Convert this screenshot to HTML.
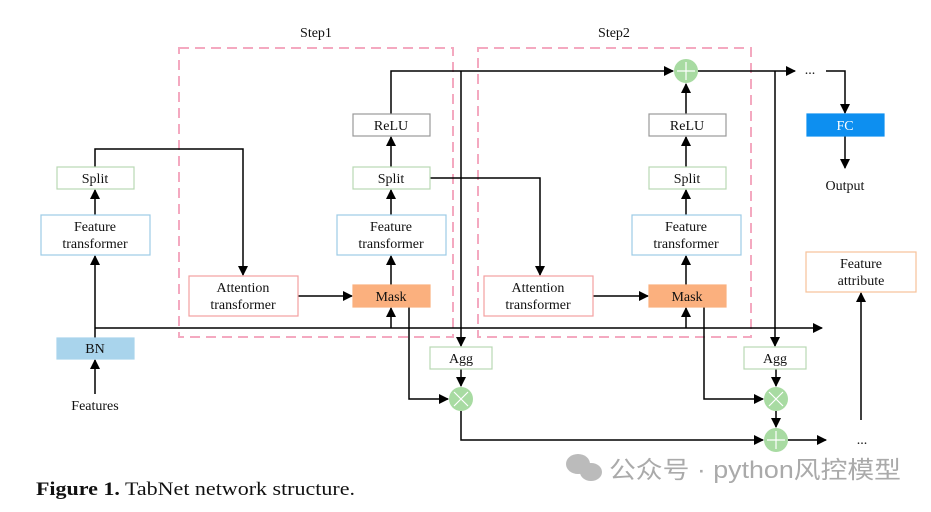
<!DOCTYPE html>
<html><head><meta charset="utf-8"><style>
body{margin:0;background:#fff;width:931px;height:507px;overflow:hidden}
svg text{font-family:"Liberation Serif",serif;font-size:14px;fill:#111}
</style></head><body>
<svg width="931" height="507" viewBox="0 0 931 507" xmlns="http://www.w3.org/2000/svg">
<defs><marker id="a" markerWidth="10" markerHeight="10" refX="9" refY="5" orient="auto" markerUnits="userSpaceOnUse"><path d="M0,0 L10,5 L0,10 z" fill="#000"/></marker></defs>
<g fill="none" stroke="#f4a9c0" stroke-width="2" stroke-dasharray="10,6">
<rect x="179" y="48" width="274" height="289"/>
<rect x="478" y="48" width="273" height="289"/>
</g>
<text x="316" y="37" text-anchor="middle">Step1</text>
<text x="614" y="37" text-anchor="middle">Step2</text>
<g stroke="#000" stroke-width="1.5" fill="none">
<path d="M95 338 V256" marker-end="url(#a)"/>
<path d="M95 215 V190" marker-end="url(#a)"/>
<path d="M95 167 V149 H243 V275" marker-end="url(#a)"/>
<path d="M95 394 V360" marker-end="url(#a)"/>
<path d="M95 328 H822" marker-end="url(#a)"/>
<path d="M298 296 H352" marker-end="url(#a)"/>
<path d="M391 328 V308" marker-end="url(#a)"/>
<path d="M391 285 V256" marker-end="url(#a)"/>
<path d="M391 215 V190" marker-end="url(#a)"/>
<path d="M391 167 V137" marker-end="url(#a)"/>
<path d="M391 114 V71 H673" marker-end="url(#a)"/>
<path d="M461 71 V346" marker-end="url(#a)"/>
<path d="M430 178 H540 V275" marker-end="url(#a)"/>
<path d="M409 307 V399 H448" marker-end="url(#a)"/>
<path d="M461 369 V386" marker-end="url(#a)"/>
<path d="M461 411 V440 H763" marker-end="url(#a)"/>
<path d="M593 296 H648" marker-end="url(#a)"/>
<path d="M686 328 V308" marker-end="url(#a)"/>
<path d="M686 285 V256" marker-end="url(#a)"/>
<path d="M686 215 V190" marker-end="url(#a)"/>
<path d="M686 167 V137" marker-end="url(#a)"/>
<path d="M686 114 V84" marker-end="url(#a)"/>
<path d="M698 71 H795" marker-end="url(#a)"/>
<path d="M775 71 V346" marker-end="url(#a)"/>
<path d="M704 307 V399 H763" marker-end="url(#a)"/>
<path d="M776 369 V386" marker-end="url(#a)"/>
<path d="M776 411 V427" marker-end="url(#a)"/>
<path d="M788 440 H826" marker-end="url(#a)"/>
<path d="M826 71 H845 V113" marker-end="url(#a)"/>
<path d="M845 136 V168" marker-end="url(#a)"/>
<path d="M861 420 V293" marker-end="url(#a)"/>
</g>
<g stroke-width="1.2">
<rect x="57" y="167" width="77" height="22" fill="#fff" stroke="#b9d8b3"/>
<rect x="41" y="215" width="109" height="40" fill="#fff" stroke="#9ccbe6"/>
<rect x="57" y="338" width="77" height="21" fill="#a9d4ec" stroke="#a9d4ec"/>
<rect x="189" y="276" width="109" height="40" fill="#fff" stroke="#f4a0a0"/>
<rect x="353" y="285" width="77" height="22" fill="#fbb07e" stroke="#fbb07e"/>
<rect x="337" y="215" width="109" height="40" fill="#fff" stroke="#9ccbe6"/>
<rect x="353" y="167" width="77" height="22" fill="#fff" stroke="#b9d8b3"/>
<rect x="353" y="114" width="77" height="22" fill="#fff" stroke="#999"/>
<rect x="484" y="276" width="109" height="40" fill="#fff" stroke="#f4a0a0"/>
<rect x="649" y="285" width="77" height="22" fill="#fbb07e" stroke="#fbb07e"/>
<rect x="632" y="215" width="109" height="40" fill="#fff" stroke="#9ccbe6"/>
<rect x="649" y="167" width="77" height="22" fill="#fff" stroke="#b9d8b3"/>
<rect x="649" y="114" width="77" height="22" fill="#fff" stroke="#999"/>
<rect x="430" y="347" width="62" height="22" fill="#fff" stroke="#b9d8b3"/>
<rect x="744" y="347" width="62" height="22" fill="#fff" stroke="#b9d8b3"/>
<rect x="807" y="114" width="77" height="22" fill="#0d8ff0" stroke="#0d8ff0"/>
<rect x="806" y="252" width="110" height="40" fill="#fff" stroke="#f6c29a"/>
</g>
<g fill="#a8dba2">
<circle cx="686" cy="71" r="12"/><circle cx="461" cy="399" r="12"/>
<circle cx="776" cy="399" r="12"/><circle cx="776" cy="440" r="12"/>
</g>
<g stroke="#fff" stroke-width="1.2">
<path d="M686 62 V80 M677 71 H695"/><path d="M776 431 V449 M767 440 H785"/>
<path d="M454 392 L468 406 M468 392 L454 406"/><path d="M769 392 L783 406 M783 392 L769 406"/>
</g>
<g text-anchor="middle">
<text x="95" y="183">Split</text>
<text x="95" y="231">Feature</text><text x="95" y="248">transformer</text>
<text x="95" y="353">BN</text>
<text x="95" y="410">Features</text>
<text x="243" y="292">Attention</text><text x="243" y="309">transformer</text>
<text x="391" y="301">Mask</text>
<text x="391" y="231">Feature</text><text x="391" y="248">transformer</text>
<text x="391" y="183">Split</text>
<text x="391" y="130">ReLU</text>
<text x="538" y="292">Attention</text><text x="538" y="309">transformer</text>
<text x="687" y="301">Mask</text>
<text x="686" y="231">Feature</text><text x="686" y="248">transformer</text>
<text x="687" y="183">Split</text>
<text x="687" y="130">ReLU</text>
<text x="461" y="363">Agg</text>
<text x="775" y="363">Agg</text>
<text x="845" y="130" style="fill:#fff">FC</text>
<text x="845" y="190">Output</text>
<text x="861" y="268">Feature</text><text x="861" y="285">attribute</text>
<text x="810" y="74">...</text>
<text x="862" y="444">...</text>
</g>
<text x="36" y="495" textLength="319" lengthAdjust="spacingAndGlyphs" style="font-size:19px"><tspan font-weight="bold">Figure 1.</tspan> TabNet network structure.</text>
<g fill="#bbb"><ellipse cx="578" cy="464" rx="12" ry="10"/><ellipse cx="591" cy="472" rx="11" ry="9"/></g>
<text x="609" y="478" textLength="292" lengthAdjust="spacingAndGlyphs" style="font-family:'Liberation Sans','Noto Sans CJK SC',sans-serif;font-size:24px;fill:#aaa">公众号 · python风控模型</text>
</svg>
</body></html>
